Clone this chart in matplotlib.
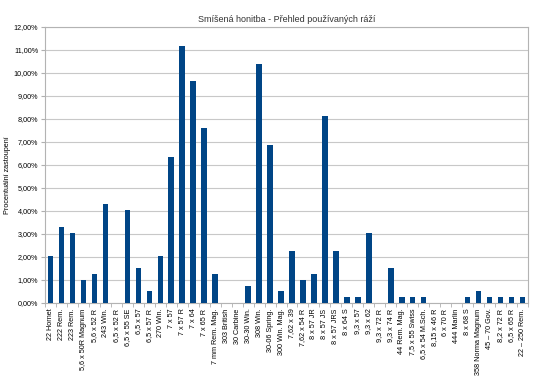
import numpy as np
import matplotlib.pyplot as plt
from matplotlib.ticker import FuncFormatter, FixedLocator

# data (share of calibres, %)
calibres = [
    "22 Hornet", "222 Rem.", "223 Rem.", "5,6 x 50R Magnum", "5,6 x 52 R",
    "243 Win.", "6,5 x 52 R", "6,5 x 55 SE", "6,5 x 57", "6,5 x 57 R",
    "270 Win.", "7 x 57", "7 x 57 R", "7 x 64", "7 x 65 R",
    "7 mm Rem. Mag.", "303 British", "30 Carbine", "30-30 Win.", "308 Win.",
    "30-06 Spring.", "300 Win. Mag.", "7,62 x 39", "7,62 x 54 R", "8 x 57 JR",
    "8 x 57 JS", "8 x 57 JRS", "8 x 64 S", "9,3 x 57", "9,3 x 62",
    "9,3 x 72 R", "9,3 x 74 R", "44 Rem. Mag.", "7,5 x 55 Swiss", "6,5 x 54 M.Sch.",
    "8,15 x 46 R", "6 x 70 R", "444 Marlin", "8 x 68 S", "358 Norma Magnum",
    "45 – 70 Gov.", "8,2 x 72 R", "6,5 x 65 R", "22 – 250 Rem.",
]
shares = [
    2.03, 3.30, 3.05, 1.02, 1.27,
    4.31, 0.0, 4.06, 1.52, 0.51,
    2.03, 6.35, 11.17, 9.64, 7.61,
    1.27, 0.0, 0.0, 0.76, 10.41,
    6.85, 0.51, 2.28, 1.02, 1.27,
    8.12, 2.28, 0.25, 0.25, 3.05,
    0.0, 1.52, 0.25, 0.25, 0.25,
    0.0, 0.0, 0.0, 0.25, 0.51,
    0.25, 0.25, 0.25, 0.25,
]

plt.rcParams['font.family'] = ['Liberation Sans', 'DejaVu Sans']

fig = plt.figure(figsize=(5.5, 3.84), dpi=100)
ax = fig.add_axes([45 / 550, 1 - 303 / 384, 483 / 550, 276 / 384])

x = np.arange(len(calibres))
ax.bar(x, shares, width=0.5, color="#004586", zorder=3)

ax.set_xlim(-0.5, len(calibres) - 0.5)
ax.set_ylim(0, 12)
ax.set_yticks(np.arange(0, 12.01, 1))
ax.yaxis.set_major_formatter(FuncFormatter(lambda v, _: f"{v:.2f}%".replace(".", ",")))
ax.grid(axis="y", color="#c8c8c8", linewidth=0.8, zorder=0)

ax.set_xticks(x)
ax.set_xticklabels(calibres, rotation=90, fontsize=5.2)
ax.xaxis.set_minor_locator(FixedLocator(np.arange(-0.5, len(calibres), 1)))
ax.tick_params(axis="x", which="major", length=0, pad=4)
ax.tick_params(axis="x", which="minor", length=3, color="#b0b0b0")
ax.tick_params(axis="y", length=3, color="#b0b0b0", labelsize=5.2, pad=2)

for s in ax.spines.values():
    s.set_color("#b3b3b3")
    s.set_linewidth(0.8)

fig.text(8 / 550, 1 - 175 / 384, "Procentuální zastoupení", rotation=90,
         ha="center", va="center", fontsize=5.2)
fig.text(287 / 550, 1 - 20 / 384, "Smíšená honitba - Přehled používaných ráží",
         ha="center", va="center", fontsize=6.5, color="#333333")

fig.savefig("out.png", dpi=100)
